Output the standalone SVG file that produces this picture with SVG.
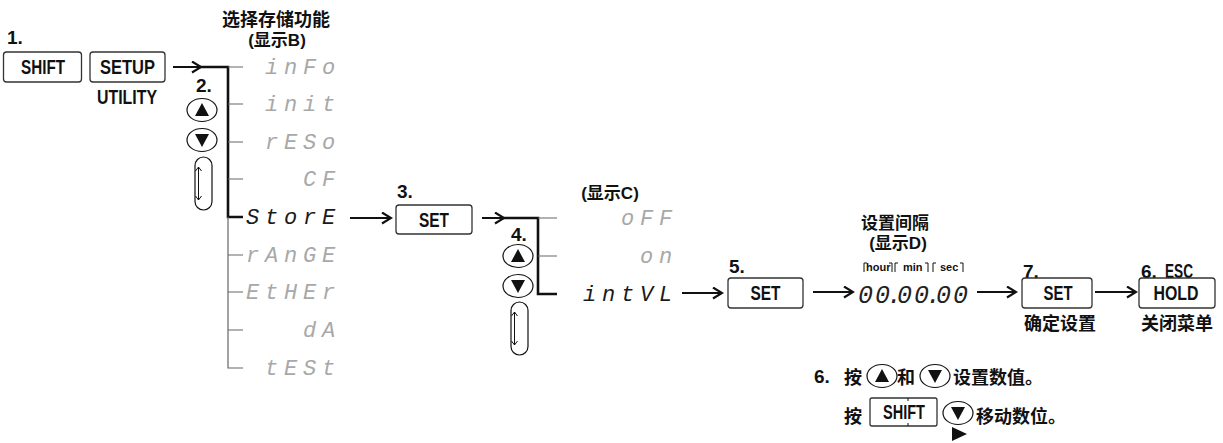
<svg xmlns="http://www.w3.org/2000/svg" width="1223" height="443" viewBox="0 0 1223 443">
<style>
.k{fill:#fff;stroke:#333;stroke-width:1.3}
.kt{font-family:'Liberation Sans',sans-serif;font-weight:bold;font-size:20px;text-anchor:middle;fill:#111}
.num{font-family:'Liberation Sans',sans-serif;font-weight:bold;font-size:19px;fill:#111}
.cjk{font-family:'Liberation Sans','Noto Sans CJK SC',sans-serif;font-weight:bold;font-size:17px;fill:#111}
.big{font-size:18px}
.mid{text-anchor:middle}
.seg{font-family:'Liberation Mono',monospace;font-style:italic;font-size:22px;letter-spacing:5.8px;fill:#a8a8a8}
.act{fill:#1a1a1a}
.arr{stroke:#111;stroke-width:2;fill:none;marker-end:url(#ah)}
.thick{stroke:#111;stroke-width:2.6;fill:none}
.thin{stroke:#666;stroke-width:1.2;fill:none}
.btn{fill:#fff;stroke:#111;stroke-width:1.2}
.tri{fill:#111}
.sm{font-family:'Liberation Sans',sans-serif;font-weight:bold;font-size:11px;fill:#111}
.br{stroke:#111;stroke-width:1;fill:none}
</style>
<defs>
<marker id="ah" markerWidth="13" markerHeight="13" refX="11" refY="6.5" orient="auto" markerUnits="userSpaceOnUse">
<path d="M2,1 L11,6.5 L2,12" fill="none" stroke="#111" stroke-width="2.2"/>
</marker>
<g id="up"><ellipse class="btn" cx="0" cy="0" rx="15" ry="11.5"/><polygon class="tri" points="0,-7 -7,6 7,6"/></g>
<g id="down"><ellipse class="btn" cx="0" cy="0" rx="15" ry="11.5"/><polygon class="tri" points="0,7 -7,-6 7,-6"/></g>
<g id="scroll"><rect class="btn" x="0" y="0" width="17" height="53" rx="8.5"/><path class="br" d="M3.5,10 V43 M0.5,14 L3.5,10 L6.5,14 M0.5,39 L3.5,43 L6.5,39"/></g>
</defs>

<g id="connectors">
<path class="arr" d="M173,67 H201"/>
<path class="thick" d="M198,67 H228 V217 H243"/>
<path class="thin" d="M228,67 H243 M228,104 H243 M228,142 H243 M228,179 H243 M228,217 V368 H243 M228,255 H243 M228,292 H243 M228,330 H243"/>
<path class="arr" d="M350,218 H391"/>
<path class="arr" d="M482,218 H504"/>
<path class="thick" d="M501,218 H538 V294 H557"/>
<path class="thin" d="M538,218 H557 M538,256 H557"/>
<path class="arr" d="M682,293 H722"/>
<path class="arr" d="M813,292 H853"/>
<path class="arr" d="M977,292 H1016"/>
<path class="arr" d="M1095,292 H1136"/>
</g>

<g id="step1">
<text class="num" x="7" y="44">1.</text>
<rect class="k" x="3.5" y="52" width="78" height="30" rx="3"/>
<text class="kt" x="43" y="74" textLength="44" lengthAdjust="spacingAndGlyphs">SHIFT</text>
<rect class="k" x="90" y="52" width="75" height="30" rx="3"/>
<text class="kt" x="127.5" y="74" textLength="55" lengthAdjust="spacingAndGlyphs">SETUP</text>
<text class="kt" x="127" y="104" textLength="60" lengthAdjust="spacingAndGlyphs">UTILITY</text>
</g>

<g id="titleB">
<text class="cjk big mid" x="276" y="26">选择存储功能</text>
<text class="cjk mid" x="277" y="46">(显示B)</text>
</g>

<g id="step2">
<text class="num" x="196" y="92">2.</text>
<use href="#up" x="202" y="110"/>
<use href="#down" x="202" y="140"/>
<use href="#scroll" x="195" y="157"/>
</g>

<g id="menuB">
<text class="seg" x="265" y="74">inFo</text>
<text class="seg" x="265" y="111">init</text>
<text class="seg" x="265" y="149">rESo</text>
<text class="seg" x="303" y="186">CF</text>
<text class="seg act" x="246" y="224">StorE</text>
<text class="seg" x="246" y="262">rAnGE</text>
<text class="seg" x="246" y="299">EtHEr</text>
<text class="seg" x="303" y="337">dA</text>
<text class="seg" x="265" y="375">tESt</text>
</g>

<g id="step3">
<text class="num" x="397" y="198">3.</text>
<rect class="k" x="396" y="205" width="76" height="29" rx="3"/>
<text class="kt" x="434" y="226.5" textLength="30" lengthAdjust="spacingAndGlyphs">SET</text>
</g>

<g id="step4">
<text class="num" x="511" y="241">4.</text>
<use href="#up" x="518" y="256"/>
<use href="#down" x="518" y="286"/>
<use href="#scroll" x="511" y="302"/>
</g>

<g id="menuC">
<text class="cjk mid" x="610" y="199">(显示C)</text>
<text class="seg" x="621" y="225">oFF</text>
<text class="seg" x="640" y="263">on</text>
<text class="seg act" x="583" y="301">intVL</text>
</g>

<g id="step5">
<text class="num" x="729" y="273">5.</text>
<rect class="k" x="728" y="278" width="75" height="30" rx="3"/>
<text class="kt" x="765.5" y="300" textLength="30" lengthAdjust="spacingAndGlyphs">SET</text>
</g>

<g id="displayD">
<text class="cjk mid" x="895" y="229">设置间隔</text>
<text class="cjk mid" x="898" y="249">(显示D)</text>
<path class="br" d="M867,263 H864 V272 M889,263 H892 V272 M898,263 H895 V272 M925,263 H928 V272 M936,263 H933 V272 M960,263 H963 V272"/>
<text class="sm" x="866" y="271">hour</text>
<text class="sm" x="903" y="271">min</text>
<text class="sm" x="940" y="271">sec</text>
<text x="858 875 887 897 914 926 936 953" y="303" style="font-family:'Liberation Mono',monospace;font-style:italic;font-size:25px;fill:#222">00.00.00</text>
</g>

<g id="step7">
<text class="num" x="1023" y="278">7.</text>
<rect class="k" x="1022" y="278" width="70" height="30" rx="3"/>
<text class="kt" x="1058" y="300" textLength="29" lengthAdjust="spacingAndGlyphs">SET</text>
<text class="cjk big mid" x="1060" y="330">确定设置</text>
</g>

<g id="step6esc">
<text class="num" x="1141" y="278">6.</text>
<text class="kt" x="1179" y="278" textLength="28" lengthAdjust="spacingAndGlyphs">ESC</text>
<rect class="k" x="1139" y="278" width="76" height="30" rx="3"/>
<text class="kt" x="1176" y="300" textLength="45" lengthAdjust="spacingAndGlyphs">HOLD</text>
<text class="cjk big mid" x="1177" y="330">关闭菜单</text>
</g>

<g id="note6">
<text class="num" x="814" y="383">6.</text>
<text class="cjk big" x="844" y="384">按</text>
<use href="#up" x="882" y="376"/>
<text class="cjk big" x="897" y="384">和</text>
<use href="#down" x="935" y="376"/>
<text class="cjk big" x="953" y="384">设置数值。</text>
<text class="cjk big" x="844" y="423">按</text>
<rect class="k" x="870" y="398" width="67" height="28" rx="2"/>
<path class="br" d="M908,398 V401 M908,423 V426"/>
<text class="kt" x="904" y="419" textLength="42" lengthAdjust="spacingAndGlyphs">SHIFT</text>
<use href="#down" x="958" y="413"/>
<text class="cjk big" x="976" y="423">移动数位。</text>
<polygon class="tri" points="952,427 967,434 952,441"/>
</g>
</svg>
